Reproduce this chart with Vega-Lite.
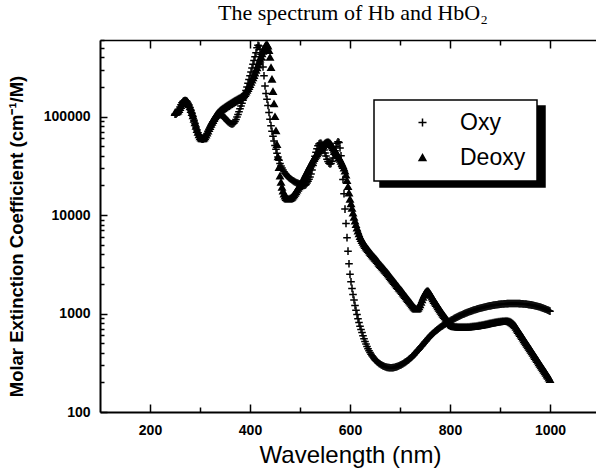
{
"$schema": "https://vega.github.io/schema/vega-lite/v6.json",
"width": 496, "height": 372,
"autosize": "none",
"padding": {"left": 100, "top": 40, "right": 0, "bottom": 63},
"background": "white",
"config": {"view": {"stroke": null}, "font": "Liberation Sans", "legend": {"strokeWidth": 1.5}},
"title": {"text": "The spectrum of Hb and HbO₂", "font": "Liberation Serif", "fontSize": 22, "fontWeight": "normal", "color": "black", "anchor": "middle", "offset": 14, "dx": 5},
"data": {"values": [
{"w":250,"Oxy":106000,"Deoxy":110000},{"w":252,"Oxy":106000,"Deoxy":111000},{"w":254,"Oxy":108000,"Deoxy":112000},{"w":256,"Oxy":112000,"Deoxy":114000},{"w":258,"Oxy":118000,"Deoxy":118000},
{"w":260,"Oxy":125000,"Deoxy":124000},{"w":262,"Oxy":132000,"Deoxy":130000},{"w":264,"Oxy":138000,"Deoxy":136000},{"w":266,"Oxy":142000,"Deoxy":140000},{"w":268,"Oxy":145000,"Deoxy":143000},
{"w":270,"Oxy":146000,"Deoxy":145000},{"w":272,"Oxy":145000,"Deoxy":145000},{"w":274,"Oxy":142000,"Deoxy":143000},{"w":276,"Oxy":137000,"Deoxy":139000},{"w":278,"Oxy":131000,"Deoxy":133000},
{"w":280,"Oxy":124000,"Deoxy":126000},{"w":282,"Oxy":116000,"Deoxy":118000},{"w":284,"Oxy":108000,"Deoxy":110000},{"w":286,"Oxy":100000,"Deoxy":102000},{"w":288,"Oxy":92000,"Deoxy":94000},
{"w":290,"Oxy":85000,"Deoxy":86500},{"w":292,"Oxy":78500,"Deoxy":80000},{"w":294,"Oxy":73000,"Deoxy":74000},{"w":296,"Oxy":68500,"Deoxy":69500},{"w":298,"Oxy":65000,"Deoxy":65500},
{"w":300,"Oxy":62000,"Deoxy":62500},{"w":302,"Oxy":60000,"Deoxy":60500},{"w":304,"Oxy":59000,"Deoxy":59500},{"w":306,"Oxy":59000,"Deoxy":59500},{"w":308,"Oxy":60000,"Deoxy":60500},
{"w":310,"Oxy":62000,"Deoxy":62500},{"w":312,"Oxy":64500,"Deoxy":65000},{"w":314,"Oxy":67500,"Deoxy":68000},{"w":316,"Oxy":71000,"Deoxy":71500},{"w":318,"Oxy":74500,"Deoxy":75500},
{"w":320,"Oxy":78000,"Deoxy":79500},{"w":322,"Oxy":81500,"Deoxy":83500},{"w":324,"Oxy":85000,"Deoxy":87500},{"w":326,"Oxy":88500,"Deoxy":91500},{"w":328,"Oxy":92000,"Deoxy":95500},
{"w":330,"Oxy":95500,"Deoxy":99500},{"w":332,"Oxy":98500,"Deoxy":103000},{"w":334,"Oxy":101000,"Deoxy":106500},{"w":336,"Oxy":103000,"Deoxy":109500},{"w":338,"Oxy":104500,"Deoxy":112000},
{"w":340,"Oxy":105000,"Deoxy":114500},{"w":342,"Oxy":104500,"Deoxy":117000},{"w":344,"Oxy":103000,"Deoxy":119000},{"w":346,"Oxy":101000,"Deoxy":121000},{"w":348,"Oxy":98500,"Deoxy":123000},
{"w":350,"Oxy":96000,"Deoxy":125000},{"w":352,"Oxy":93500,"Deoxy":127000},{"w":354,"Oxy":91000,"Deoxy":129000},{"w":356,"Oxy":89000,"Deoxy":131000},{"w":358,"Oxy":87000,"Deoxy":133000},
{"w":360,"Oxy":85500,"Deoxy":135000},{"w":362,"Oxy":84500,"Deoxy":137000},{"w":364,"Oxy":84000,"Deoxy":139000},{"w":366,"Oxy":84500,"Deoxy":141000},{"w":368,"Oxy":86000,"Deoxy":143000},
{"w":370,"Oxy":89000,"Deoxy":145000},{"w":372,"Oxy":93500,"Deoxy":147000},{"w":374,"Oxy":99000,"Deoxy":149000},{"w":376,"Oxy":105000,"Deoxy":151000},{"w":378,"Oxy":112000,"Deoxy":153000},
{"w":380,"Oxy":120000,"Deoxy":155000},{"w":382,"Oxy":128000,"Deoxy":157000},{"w":384,"Oxy":137000,"Deoxy":160000},{"w":386,"Oxy":147000,"Deoxy":163000},{"w":388,"Oxy":158000,"Deoxy":167000},
{"w":390,"Oxy":170000,"Deoxy":172000},{"w":392,"Oxy":184000,"Deoxy":178000},{"w":394,"Oxy":200000,"Deoxy":185000},{"w":396,"Oxy":218000,"Deoxy":193000},{"w":398,"Oxy":238000,"Deoxy":202000},
{"w":400,"Oxy":260000,"Deoxy":212000},{"w":402,"Oxy":284000,"Deoxy":223000},{"w":404,"Oxy":311000,"Deoxy":235000},{"w":406,"Oxy":340000,"Deoxy":248000},{"w":408,"Oxy":372000,"Deoxy":262000},
{"w":410,"Oxy":406000,"Deoxy":278000},{"w":412,"Oxy":445000,"Deoxy":295000},{"w":414,"Oxy":500000,"Deoxy":314000},{"w":416,"Oxy":530000,"Deoxy":335000},{"w":418,"Oxy":520000,"Deoxy":358000},
{"w":420,"Oxy":480000,"Deoxy":382000},{"w":422,"Oxy":430000,"Deoxy":408000},{"w":424,"Oxy":375000,"Deoxy":435000},{"w":426,"Oxy":320000,"Deoxy":462000},{"w":428,"Oxy":260000,"Deoxy":490000},
{"w":430,"Oxy":205000,"Deoxy":515000},{"w":432,"Oxy":172000,"Deoxy":535000},{"w":434,"Oxy":150000,"Deoxy":540000},{"w":436,"Oxy":130000,"Deoxy":520000},{"w":438,"Oxy":110000,"Deoxy":470000},
{"w":440,"Oxy":94000,"Deoxy":400000},{"w":442,"Oxy":81000,"Deoxy":315000},{"w":444,"Oxy":71000,"Deoxy":240000},{"w":446,"Oxy":63000,"Deoxy":180000},{"w":448,"Oxy":56500,"Deoxy":135000},
{"w":450,"Oxy":51000,"Deoxy":100000},{"w":452,"Oxy":46500,"Deoxy":72000},{"w":454,"Oxy":42500,"Deoxy":52000},{"w":456,"Oxy":39000,"Deoxy":39000},{"w":458,"Oxy":36000,"Deoxy":30500},
{"w":460,"Oxy":33500,"Deoxy":25000},{"w":462,"Oxy":31500,"Deoxy":21500},{"w":464,"Oxy":30000,"Deoxy":19200},{"w":466,"Oxy":28700,"Deoxy":17600},{"w":468,"Oxy":27600,"Deoxy":16400},
{"w":470,"Oxy":26600,"Deoxy":15600},{"w":472,"Oxy":25800,"Deoxy":15100},{"w":474,"Oxy":25100,"Deoxy":14800},{"w":476,"Oxy":24500,"Deoxy":14600},{"w":478,"Oxy":24000,"Deoxy":14600},
{"w":480,"Oxy":23500,"Deoxy":14700},{"w":482,"Oxy":23100,"Deoxy":14900},{"w":484,"Oxy":22700,"Deoxy":15200},{"w":486,"Oxy":22300,"Deoxy":15600},{"w":488,"Oxy":22000,"Deoxy":16100},
{"w":490,"Oxy":21700,"Deoxy":16700},{"w":492,"Oxy":21400,"Deoxy":17300},{"w":494,"Oxy":21200,"Deoxy":18000},{"w":496,"Oxy":21000,"Deoxy":18700},{"w":498,"Oxy":20800,"Deoxy":19400},
{"w":500,"Oxy":20700,"Deoxy":20000},{"w":502,"Oxy":20400,"Deoxy":20900},{"w":504,"Oxy":20200,"Deoxy":21900},{"w":506,"Oxy":20000,"Deoxy":22900},{"w":508,"Oxy":20000,"Deoxy":24000},
{"w":510,"Oxy":20100,"Deoxy":25200},{"w":512,"Oxy":20500,"Deoxy":26400},{"w":514,"Oxy":21200,"Deoxy":27600},{"w":516,"Oxy":22100,"Deoxy":28900},{"w":518,"Oxy":23100,"Deoxy":30200},
{"w":520,"Oxy":24300,"Deoxy":31600},{"w":522,"Oxy":26200,"Deoxy":33000},{"w":524,"Oxy":28700,"Deoxy":34500},{"w":526,"Oxy":31800,"Deoxy":36000},{"w":528,"Oxy":35500,"Deoxy":37500},
{"w":530,"Oxy":39500,"Deoxy":39000},{"w":532,"Oxy":43500,"Deoxy":40500},{"w":534,"Oxy":47300,"Deoxy":42000},{"w":536,"Oxy":50500,"Deoxy":43500},{"w":538,"Oxy":52700,"Deoxy":45000},
{"w":540,"Oxy":53600,"Deoxy":46600},{"w":542,"Oxy":53600,"Deoxy":48100},{"w":544,"Oxy":52000,"Deoxy":49600},{"w":546,"Oxy":49000,"Deoxy":51000},{"w":548,"Oxy":45800,"Deoxy":52300},
{"w":550,"Oxy":42800,"Deoxy":53500},{"w":552,"Oxy":39800,"Deoxy":54400},{"w":554,"Oxy":37000,"Deoxy":55000},{"w":556,"Oxy":35000,"Deoxy":55200},{"w":558,"Oxy":33600,"Deoxy":54700},
{"w":560,"Oxy":33000,"Deoxy":53500},{"w":562,"Oxy":33500,"Deoxy":52000},{"w":564,"Oxy":35200,"Deoxy":50300},{"w":566,"Oxy":38000,"Deoxy":48500},{"w":568,"Oxy":41500,"Deoxy":46700},
{"w":570,"Oxy":45000,"Deoxy":45000},{"w":572,"Oxy":49500,"Deoxy":43300},{"w":574,"Oxy":53500,"Deoxy":41600},{"w":576,"Oxy":55500,"Deoxy":40000},{"w":578,"Oxy":54500,"Deoxy":38400},
{"w":580,"Oxy":48000,"Deoxy":36800},{"w":582,"Oxy":40000,"Deoxy":35200},{"w":584,"Oxy":31000,"Deoxy":33500},{"w":586,"Oxy":23000,"Deoxy":31800},{"w":588,"Oxy":16500,"Deoxy":30000},
{"w":590,"Oxy":11500,"Deoxy":28000},{"w":592,"Oxy":8200,"Deoxy":25500},{"w":594,"Oxy":5900,"Deoxy":22500},{"w":596,"Oxy":4300,"Deoxy":19500},{"w":598,"Oxy":3200,"Deoxy":16800},
{"w":600,"Oxy":2500,"Deoxy":14500},{"w":602,"Oxy":2100,"Deoxy":13000},{"w":604,"Oxy":1800,"Deoxy":11700},{"w":606,"Oxy":1560,"Deoxy":10500},{"w":608,"Oxy":1370,"Deoxy":9500},
{"w":610,"Oxy":1210,"Deoxy":8700},{"w":612,"Oxy":1080,"Deoxy":8000},{"w":614,"Oxy":975,"Deoxy":7400},{"w":616,"Oxy":885,"Deoxy":6900},{"w":618,"Oxy":810,"Deoxy":6450},
{"w":620,"Oxy":745,"Deoxy":6050},{"w":622,"Oxy":690,"Deoxy":5780},{"w":624,"Oxy":640,"Deoxy":5530},{"w":626,"Oxy":595,"Deoxy":5300},{"w":628,"Oxy":555,"Deoxy":5090},
{"w":630,"Oxy":520,"Deoxy":4900},{"w":632,"Oxy":490,"Deoxy":4750},{"w":634,"Oxy":463,"Deoxy":4610},{"w":636,"Oxy":440,"Deoxy":4470},{"w":638,"Oxy":420,"Deoxy":4330},
{"w":640,"Oxy":402,"Deoxy":4200},{"w":642,"Oxy":387,"Deoxy":4080},{"w":644,"Oxy":373,"Deoxy":3960},{"w":646,"Oxy":361,"Deoxy":3850},{"w":648,"Oxy":350,"Deoxy":3750},
{"w":650,"Oxy":340,"Deoxy":3650},{"w":652,"Oxy":332,"Deoxy":3550},{"w":654,"Oxy":325,"Deoxy":3450},{"w":656,"Oxy":318,"Deoxy":3350},{"w":658,"Oxy":312,"Deoxy":3250},
{"w":660,"Oxy":307,"Deoxy":3150},{"w":662,"Oxy":302,"Deoxy":3070},{"w":664,"Oxy":298,"Deoxy":2990},{"w":666,"Oxy":294,"Deoxy":2910},{"w":668,"Oxy":291,"Deoxy":2830},
{"w":670,"Oxy":288,"Deoxy":2750},{"w":672,"Oxy":286,"Deoxy":2680},{"w":674,"Oxy":284,"Deoxy":2610},{"w":676,"Oxy":283,"Deoxy":2540},{"w":678,"Oxy":282,"Deoxy":2460},
{"w":680,"Oxy":281,"Deoxy":2380},{"w":682,"Oxy":281,"Deoxy":2310},{"w":684,"Oxy":281,"Deoxy":2240},{"w":686,"Oxy":282,"Deoxy":2180},{"w":688,"Oxy":283,"Deoxy":2110},
{"w":690,"Oxy":285,"Deoxy":2050},{"w":692,"Oxy":287,"Deoxy":1990},{"w":694,"Oxy":289,"Deoxy":1930},{"w":696,"Oxy":292,"Deoxy":1880},{"w":698,"Oxy":295,"Deoxy":1820},
{"w":700,"Oxy":298,"Deoxy":1770},{"w":702,"Oxy":301,"Deoxy":1720},{"w":704,"Oxy":305,"Deoxy":1670},{"w":706,"Oxy":309,"Deoxy":1620},{"w":708,"Oxy":314,"Deoxy":1570},
{"w":710,"Oxy":319,"Deoxy":1520},{"w":712,"Oxy":324,"Deoxy":1480},{"w":714,"Oxy":330,"Deoxy":1430},{"w":716,"Oxy":336,"Deoxy":1390},{"w":718,"Oxy":342,"Deoxy":1350},
{"w":720,"Oxy":349,"Deoxy":1310},{"w":722,"Oxy":356,"Deoxy":1270},{"w":724,"Oxy":364,"Deoxy":1230},{"w":726,"Oxy":373,"Deoxy":1195},{"w":728,"Oxy":382,"Deoxy":1160},
{"w":730,"Oxy":392,"Deoxy":1130},{"w":732,"Oxy":402,"Deoxy":1110},{"w":734,"Oxy":413,"Deoxy":1110},{"w":736,"Oxy":424,"Deoxy":1130},{"w":738,"Oxy":435,"Deoxy":1170},
{"w":740,"Oxy":447,"Deoxy":1230},{"w":742,"Oxy":459,"Deoxy":1300},{"w":744,"Oxy":472,"Deoxy":1380},{"w":746,"Oxy":485,"Deoxy":1460},{"w":748,"Oxy":499,"Deoxy":1540},
{"w":750,"Oxy":513,"Deoxy":1610},{"w":752,"Oxy":527,"Deoxy":1660},{"w":754,"Oxy":542,"Deoxy":1690},{"w":756,"Oxy":557,"Deoxy":1690},{"w":758,"Oxy":572,"Deoxy":1650},
{"w":760,"Oxy":587,"Deoxy":1590},{"w":762,"Oxy":601,"Deoxy":1530},{"w":764,"Oxy":615,"Deoxy":1470},{"w":766,"Oxy":629,"Deoxy":1415},{"w":768,"Oxy":643,"Deoxy":1360},
{"w":770,"Oxy":656,"Deoxy":1310},{"w":772,"Oxy":669,"Deoxy":1265},{"w":774,"Oxy":682,"Deoxy":1220},{"w":776,"Oxy":695,"Deoxy":1175},{"w":778,"Oxy":708,"Deoxy":1130},
{"w":780,"Oxy":721,"Deoxy":1095},{"w":782,"Oxy":733,"Deoxy":1055},{"w":784,"Oxy":745,"Deoxy":1020},{"w":786,"Oxy":757,"Deoxy":985},{"w":788,"Oxy":769,"Deoxy":955},
{"w":790,"Oxy":781,"Deoxy":925},{"w":792,"Oxy":793,"Deoxy":895},{"w":794,"Oxy":805,"Deoxy":865},{"w":796,"Oxy":817,"Deoxy":840},{"w":798,"Oxy":829,"Deoxy":815},
{"w":800,"Oxy":841,"Deoxy":790},{"w":802,"Oxy":853,"Deoxy":770},{"w":804,"Oxy":864,"Deoxy":755},{"w":806,"Oxy":876,"Deoxy":745},{"w":808,"Oxy":887,"Deoxy":740},
{"w":810,"Oxy":898,"Deoxy":736},{"w":812,"Oxy":909,"Deoxy":734},{"w":814,"Oxy":920,"Deoxy":732},{"w":816,"Oxy":931,"Deoxy":731},{"w":818,"Oxy":942,"Deoxy":730},
{"w":820,"Oxy":952,"Deoxy":729},{"w":822,"Oxy":962,"Deoxy":728},{"w":824,"Oxy":973,"Deoxy":728},{"w":826,"Oxy":983,"Deoxy":728},{"w":828,"Oxy":993,"Deoxy":728},
{"w":830,"Oxy":1003,"Deoxy":728},{"w":832,"Oxy":1013,"Deoxy":729},{"w":834,"Oxy":1022,"Deoxy":730},{"w":836,"Oxy":1032,"Deoxy":731},{"w":838,"Oxy":1041,"Deoxy":732},
{"w":840,"Oxy":1050,"Deoxy":733},{"w":842,"Oxy":1059,"Deoxy":735},{"w":844,"Oxy":1068,"Deoxy":737},{"w":846,"Oxy":1076,"Deoxy":739},{"w":848,"Oxy":1085,"Deoxy":741},
{"w":850,"Oxy":1093,"Deoxy":743},{"w":852,"Oxy":1101,"Deoxy":745},{"w":854,"Oxy":1109,"Deoxy":748},{"w":856,"Oxy":1117,"Deoxy":751},{"w":858,"Oxy":1125,"Deoxy":754},
{"w":860,"Oxy":1132,"Deoxy":757},{"w":862,"Oxy":1139,"Deoxy":760},{"w":864,"Oxy":1146,"Deoxy":763},{"w":866,"Oxy":1153,"Deoxy":767},{"w":868,"Oxy":1160,"Deoxy":771},
{"w":870,"Oxy":1167,"Deoxy":775},{"w":872,"Oxy":1173,"Deoxy":779},{"w":874,"Oxy":1179,"Deoxy":783},{"w":876,"Oxy":1185,"Deoxy":787},{"w":878,"Oxy":1191,"Deoxy":791},
{"w":880,"Oxy":1197,"Deoxy":795},{"w":882,"Oxy":1202,"Deoxy":799},{"w":884,"Oxy":1207,"Deoxy":803},{"w":886,"Oxy":1212,"Deoxy":807},{"w":888,"Oxy":1217,"Deoxy":811},
{"w":890,"Oxy":1222,"Deoxy":815},{"w":892,"Oxy":1226,"Deoxy":818},{"w":894,"Oxy":1230,"Deoxy":821},{"w":896,"Oxy":1234,"Deoxy":824},{"w":898,"Oxy":1238,"Deoxy":827},
{"w":900,"Oxy":1242,"Deoxy":830},{"w":902,"Oxy":1245,"Deoxy":832},{"w":904,"Oxy":1248,"Deoxy":834},{"w":906,"Oxy":1251,"Deoxy":836},{"w":908,"Oxy":1254,"Deoxy":837},
{"w":910,"Oxy":1256,"Deoxy":838},{"w":912,"Oxy":1258,"Deoxy":838},{"w":914,"Oxy":1260,"Deoxy":838},{"w":916,"Oxy":1262,"Deoxy":836},{"w":918,"Oxy":1263,"Deoxy":832},
{"w":920,"Oxy":1264,"Deoxy":826},{"w":922,"Oxy":1265,"Deoxy":816},{"w":924,"Oxy":1266,"Deoxy":802},{"w":926,"Oxy":1266,"Deoxy":786},{"w":928,"Oxy":1266,"Deoxy":768},
{"w":930,"Oxy":1266,"Deoxy":750},{"w":932,"Oxy":1265,"Deoxy":724},{"w":934,"Oxy":1264,"Deoxy":698},{"w":936,"Oxy":1263,"Deoxy":674},{"w":938,"Oxy":1262,"Deoxy":650},
{"w":940,"Oxy":1261,"Deoxy":627},{"w":942,"Oxy":1259,"Deoxy":605},{"w":944,"Oxy":1256,"Deoxy":584},{"w":946,"Oxy":1254,"Deoxy":563},{"w":948,"Oxy":1252,"Deoxy":543},
{"w":950,"Oxy":1249,"Deoxy":524},{"w":952,"Oxy":1245,"Deoxy":506},{"w":954,"Oxy":1241,"Deoxy":488},{"w":956,"Oxy":1237,"Deoxy":471},{"w":958,"Oxy":1233,"Deoxy":454},
{"w":960,"Oxy":1229,"Deoxy":438},{"w":962,"Oxy":1224,"Deoxy":423},{"w":964,"Oxy":1218,"Deoxy":408},{"w":966,"Oxy":1213,"Deoxy":394},{"w":968,"Oxy":1207,"Deoxy":380},
{"w":970,"Oxy":1201,"Deoxy":366},{"w":972,"Oxy":1194,"Deoxy":353},{"w":974,"Oxy":1187,"Deoxy":341},{"w":976,"Oxy":1180,"Deoxy":329},{"w":978,"Oxy":1172,"Deoxy":317},
{"w":980,"Oxy":1164,"Deoxy":306},{"w":982,"Oxy":1155,"Deoxy":295},{"w":984,"Oxy":1145,"Deoxy":285},{"w":986,"Oxy":1136,"Deoxy":275},{"w":988,"Oxy":1126,"Deoxy":265},
{"w":990,"Oxy":1116,"Deoxy":256},{"w":992,"Oxy":1105,"Deoxy":247},{"w":994,"Oxy":1093,"Deoxy":238},{"w":996,"Oxy":1082,"Deoxy":230},{"w":998,"Oxy":1070,"Deoxy":222},
{"w":1000,"Oxy":1058,"Deoxy":214}
]},
"transform": [{"fold": ["Oxy", "Deoxy"], "as": ["series", "value"]}],
"layer": [
{
"mark": {"type": "point", "filled": true, "stroke": "black", "strokeWidth": 1.5, "size": 40, "opacity": 1},
"encoding": {
"x": {"field": "w", "type": "quantitative",
"scale": {"domain": [100, 1092], "nice": false, "zero": false},
"axis": {"orient": "bottom", "values": [200,400,600,800,1000], "format": "d",
"tickSize": -8, "tickColor": "black", "tickWidth": 1.5, "domainColor": "black", "domainWidth": 2, "grid": false,
"labelFont": "Liberation Sans", "labelFontSize": 14, "labelFontWeight": "bold", "labelColor": "black", "labelPadding": 19, "labelOverlap": false, "labelFlush": false,
"title": "Wavelength (nm)", "titleFont": "Liberation Sans", "titleFontSize": 24, "titleFontWeight": "normal", "titleColor": "black",
"titleX": 250, "titleY": 50, "titleBaseline": "alphabetic", "titleAlign": "center"}},
"y": {"field": "value", "type": "quantitative",
"scale": {"type": "log", "domain": [100, 600000], "nice": false},
"axis": {"orient": "left", "values": [100,1000,10000,100000], "format": "d",
"tickSize": -7, "tickColor": "black", "tickWidth": 1.5, "domainColor": "black", "domainWidth": 2, "grid": false,
"labelFont": "Liberation Sans", "labelFontSize": 14, "labelFontWeight": "bold", "labelColor": "black", "labelPadding": 17, "labelOverlap": false, "labelFlush": false,
"title": "Molar Extinction Coefficient (cm⁻¹/M)", "titleFont": "Liberation Sans", "titleFontSize": 18.5, "titleFontWeight": "bold", "titleColor": "black",
"titleX": -84, "titleY": 196, "titleBaseline": "middle", "titleAlign": "center", "titleAngle": -90}},
"shape": {"field": "series", "type": "nominal", "sort": ["Oxy", "Deoxy"],
"scale": {"range": ["M-1.2,0L1.2,0M0,-1.2L0,1.2", "triangle-up"]},
"legend": {"title": null, "orient": "none", "legendX": 274, "legendY": 60, "zindex": 2,
"fillColor": "white", "strokeColor": "black", "padding": 11,
"labelFont": "Liberation Sans", "labelFontSize": 23, "labelColor": "black",
"symbolSize": 45, "symbolFillColor": "black", "symbolStrokeColor": "black", "symbolStrokeWidth": 1.5,
"symbolOffset": 26, "labelOffset": 26, "rowPadding": 11}},
"color": {"field": "series", "type": "nominal",
"scale": {"domain": ["Oxy", "Deoxy"], "range": ["black", "black"]},
"legend": {"title": null, "orient": "none", "legendX": 280, "legendY": 66, "zindex": 1,
"fillColor": "black", "strokeColor": "black", "padding": 11,
"labelFont": "Liberation Sans", "labelFontSize": 23, "labelColor": "black", "labelExpr": "' '",
"symbolSize": 45, "symbolType": "triangle-up", "symbolFillColor": "black", "symbolStrokeColor": "black", "symbolStrokeWidth": 1.5,
"symbolOffset": 26, "labelOffset": 94, "rowPadding": 11}}
}
},
{
"mark": {"type": "point", "opacity": 0},
"encoding": {
"x": {"field": "w", "type": "quantitative",
"axis": {"orient": "bottom", "values": [300,500,700,900], "labels": false, "title": null, "domain": false,
"tickSize": -5, "tickColor": "black", "tickWidth": 1.5, "grid": false}},
"y": {"field": "value", "type": "quantitative",
"axis": {"orient": "left", "values": [200,300,400,500,600,700,800,900,2000,3000,4000,5000,6000,7000,8000,9000,20000,30000,40000,50000,60000,70000,80000,90000,200000,300000,400000,500000,600000],
"labels": false, "title": null, "domain": false, "tickSize": -4, "tickColor": "black", "tickWidth": 1.5, "grid": false}}
}
},
{
"mark": {"type": "point", "opacity": 0},
"encoding": {
"x": {"field": "w", "type": "quantitative",
"axis": {"orient": "top", "values": [200,400,600,800,1000], "labels": false, "title": null,
"tickSize": -8, "tickColor": "black", "tickWidth": 1.5, "domainColor": "black", "domainWidth": 1.5, "grid": false}}
}
},
{
"mark": {"type": "point", "opacity": 0},
"encoding": {
"x": {"field": "w", "type": "quantitative",
"axis": {"orient": "top", "values": [300,500,700,900], "labels": false, "title": null, "domain": false,
"tickSize": -5, "tickColor": "black", "tickWidth": 1.5, "grid": false}}
}
}
],
"resolve": {"axis": {"x": "independent", "y": "independent"}}
}
